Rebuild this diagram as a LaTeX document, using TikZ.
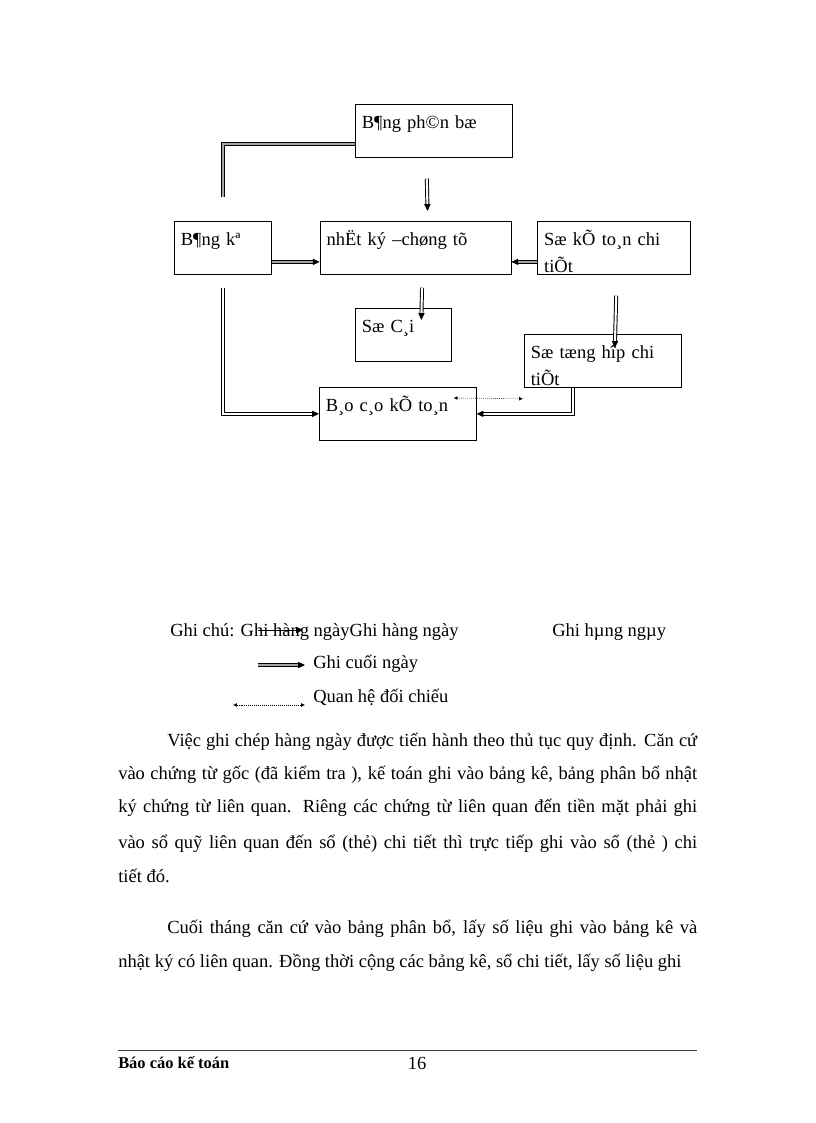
\documentclass[tikz,border=0pt]{standalone}
\usepackage{fontspec}
\setmainfont{Liberation Serif}
\usetikzlibrary{arrows.meta, positioning, calc}

\begin{document}
\begin{tikzpicture}[x=0.7295pt, y=-0.7295pt, >={Triangle[length=5pt,width=4.5pt]},
    font=\fontsize{13.5}{19.5}\selectfont,
    box/.style={draw, line width=0.5pt, anchor=north west, align=left,
      inner xsep=4.7pt, inner ysep=5pt, text height=12.5pt, text depth=16.2pt},
    dline/.style={draw, line width=0.7pt, double, double distance=1.5pt},
    thk/.style={draw, line width=0.85pt, double=gray!70, double distance=1pt},
    dots/.style={densely dotted, line width=0.45pt,
      {Latex[length=2.8pt,width=2.8pt]}-{Latex[length=2.8pt,width=2.8pt]}},
    para/.style={anchor=base west, inner sep=0pt}]
  \useasboundingbox (0,0) rectangle (816,1123);

  % Nodes
  \node[box, text width=105.1pt] (PB) at (355,104) {B¶ng ph©n bæ};
  \node[box, text width=61.4pt] (BK) at (174,221) {B¶ng kª};
  \node[box, text width=129.9pt, right=35pt of BK] (NK) {nhËt ký –chøng tõ};
  \node[box, text width=102.2pt, right=19pt of NK] (KT) {Sæ kÕ to¸n chi\\tiÕt};
  \node[box, text width=60.6pt] (SC) at (355,308) {Sæ C¸i};
  \node[box, text width=105.1pt] (TH) at (524,334) {Sæ tæng hîp chi\\tiÕt};
  \node[box, text width=105.1pt] (BC) at (319,387) {B¸o c¸o kÕ to¸n};
  \coordinate (BKtop) at ($(BK.north)+(0,-24)$);

  % Arrows
  \draw[thk] ($(PB.west)+(0,13)$) -| (BKtop);
  \draw[dline,->] ($(PB.south)+(-7,21)$) -- ($(NK.north)+(12,-10)$);
  \draw[thk,->] ($(BK.east)+(0,14)$) -- ($(NK.west)+(0,14)$);
  \draw[thk,->] ($(KT.west)+(0,14)$) -- ($(NK.east)+(0,14)$);
  \draw[dline,->] ($(NK.south)+(6.5,13)$) -- ($(SC.north)+(18,12)$);
  \draw[dline,->] ($(KT.south)+(2,21)$) -- ($(TH.north)+(12,14)$);
  \draw[dline,->] ($(BK.south)+(0,13)$) |- (BC.west);
  \draw[dline,->] ($(TH.south)+(-30,0)$) |- (BC.east);
  \draw[dots] ($(BC.north east)+(-23,11)$) -- ($(TH.south west)+(-1,11)$);

  % Legend
  \node[para] (G1) at (170,636) {Ghi chú: Ghi hàng ngàyGhi hàng ngày};
  \node[para] (G0) at (552,636) {Ghi hµng ngµy};
  \node[para] (G2) at (313,668) {Ghi cuối ngày};
  \node[para] (G3) at (313,702) {Quan hệ đối chiếu};
  \draw[->, line width=0.6pt] ($(G1.base west)+(88,-6)$) -- ($(G1.base west)+(133,-6)$);
  \draw[thk,->] ($(G2.base west)+(-55,-3)$) -- ($(G2.base west)+(-8,-3)$);
  \draw[dots] ($(G3.base west)+(-80,3)$) -- ($(G3.base west)+(-8,3)$);

  % Text
  \node[para] (P1) at (167,746) {\makebox[386.6pt][s]{Việc ghi chép hàng ngày được tiến hành theo thủ tục quy định. Căn cứ}};
  \node[para] (P2) at (118,779) {\makebox[422.4pt][s]{vào chứng từ gốc (đã kiểm tra ), kế toán ghi vào bảng kê, bảng phân bổ nhật}};
  \node[para] (P3) at (118,812) {\makebox[422.4pt][s]{ký chứng từ liên quan. Riêng các chứng từ liên quan đến tiền mặt phải ghi}};
  \node[para] (P4) at (118,848) {\makebox[422.4pt][s]{vào sổ quỹ liên quan đến sổ (thẻ) chi tiết thì trực tiếp ghi vào sổ (thẻ ) chi}};
  \node[para] (P5) at (118,882) {tiết đó.};
  \node[para] (P6) at (167,933) {\makebox[386.6pt][s]{Cuối tháng căn cứ vào bảng phân bổ, lấy số liệu ghi vào bảng kê và}};
  \node[para] (P7) at (118,967) {nhật ký có liên quan. Đồng thời cộng các bảng kê, sổ chi tiết, lấy số liệu ghi};

  % Footer
  \draw[line width=0.7pt, gray!50!black] (118,1050) -- (697,1050);
  \node[para, font=\fontsize{12}{14}\selectfont\bfseries] (FT) at (118,1068) {Báo cáo kế toán};
  \node[anchor=base, inner sep=0pt] (PG) at (417,1069) {16};
\end{tikzpicture}
\end{document}
